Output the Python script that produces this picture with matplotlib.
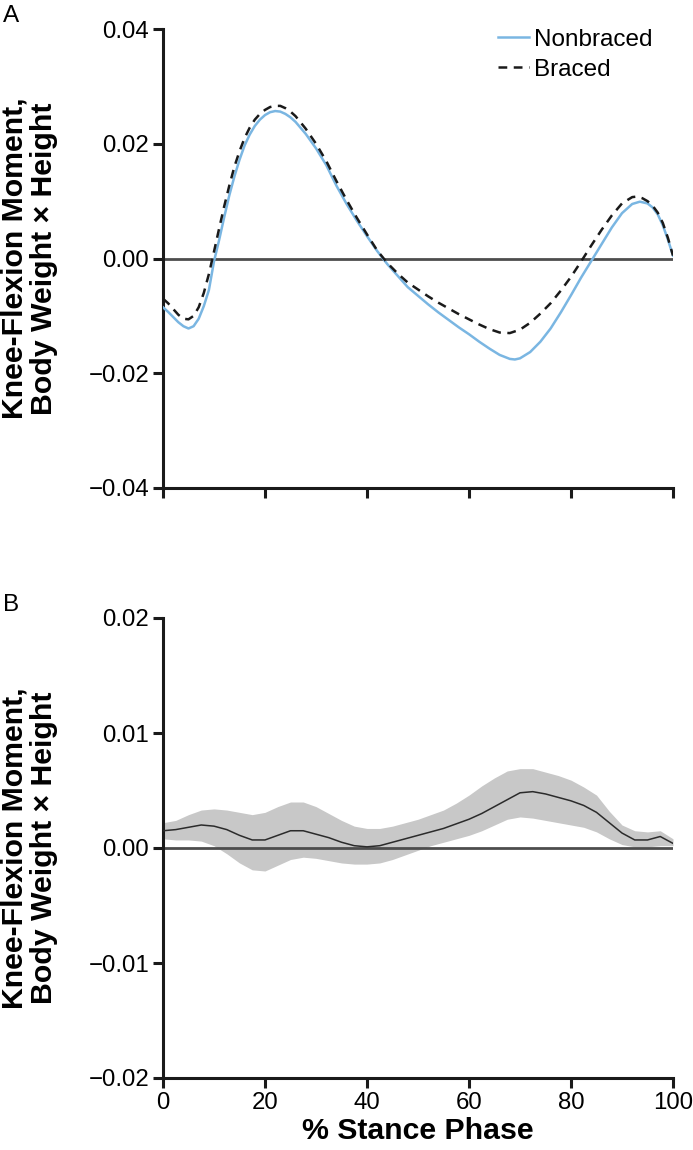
import matplotlib
matplotlib.use("Agg")
import matplotlib.pyplot as plt
import numpy as np

plt.rcParams['font.family'] = ['Liberation Sans', 'DejaVu Sans']

# ---------------- Panel A data ----------------
xa = [0, 1, 2, 3, 4, 5, 6, 7, 8, 9, 10, 11, 12, 13, 14, 15, 16, 17, 18, 19, 20,
      21, 22, 23, 24, 25, 26, 28, 30, 32, 34, 36, 38, 40, 42, 44, 46, 48, 50,
      52, 54, 56, 58, 60, 62, 64, 66, 68, 69, 70, 72, 74, 76, 78, 80, 82, 84,
      86, 88, 90, 92, 93.5, 95, 96, 97, 98, 99, 100]
nonbraced = [-0.0085, -0.0093, -0.0102, -0.0111, -0.0118, -0.0122, -0.0118,
             -0.0105, -0.0083, -0.0055, -0.0005, 0.0032, 0.0072, 0.0110, 0.0143,
             0.0172, 0.0197, 0.0216, 0.0231, 0.0242, 0.0250, 0.0255, 0.0257,
             0.0256, 0.0252, 0.0246, 0.0238, 0.0217, 0.0192, 0.0163, 0.0127,
             0.0095, 0.0066, 0.0039, 0.0013, -0.0010, -0.0030, -0.0050, -0.0065,
             -0.0080, -0.0094, -0.0107, -0.0120, -0.0132, -0.0145, -0.0157,
             -0.0168, -0.0175, -0.0176, -0.0174, -0.0163, -0.0145, -0.0122,
             -0.0094, -0.0064, -0.0033, -0.0004, 0.0025, 0.0054, 0.0079, 0.0095,
             0.0099, 0.0096, 0.0089, 0.0077, 0.0058, 0.0033, 0.0005]

xb = [0, 1, 2, 3, 4, 5, 6, 7, 8, 9, 10, 11, 12, 13, 14, 15, 16, 17, 18, 19, 20,
      21, 22, 23, 24, 25, 26, 28, 30, 32, 34, 36, 38, 40, 42, 44, 46, 48, 50,
      52, 54, 56, 58, 60, 62, 64, 66, 68, 70, 72, 74, 76, 78, 80, 82, 84, 86,
      88, 90, 92, 93, 94, 95, 96, 97, 98, 99, 100]
braced = [-0.0070, -0.0078, -0.0088, -0.0098, -0.0105, -0.0106, -0.0100,
          -0.0085, -0.0060, -0.0027, 0.0012, 0.0052, 0.0091, 0.0127, 0.0160,
          0.0187, 0.0210, 0.0228, 0.0242, 0.0252, 0.0259, 0.0264, 0.0266,
          0.0266, 0.0262, 0.0256, 0.0248, 0.0226, 0.0200, 0.0170, 0.0135,
          0.0102, 0.0071, 0.0042, 0.0014, -0.0008, -0.0026, -0.0042, -0.0054,
          -0.0066, -0.0077, -0.0087, -0.0097, -0.0106, -0.0115, -0.0123,
          -0.0129, -0.0130, -0.0124, -0.0112, -0.0096, -0.0078, -0.0056,
          -0.0032, -0.0005, 0.0023, 0.0050, 0.0075, 0.0096, 0.0107, 0.0108,
          0.0105, 0.0100, 0.0092, 0.0080, 0.0062, 0.0036, 0.0005]

# ---------------- Panel B data ----------------
xd = [0, 2.5, 5, 7.5, 10, 12.5, 15, 17.5, 20, 22.5, 25, 27.5, 30, 32.5, 35,
      37.5, 40, 42.5, 45, 47.5, 50, 52.5, 55, 57.5, 60, 62.5, 65, 67.5, 70,
      72.5, 75, 77.5, 80, 82.5, 85, 87.5, 90, 92.5, 95, 97.5, 100]
diff_mean = [0.0015, 0.0016, 0.0018, 0.0020, 0.0019, 0.0016, 0.0011, 0.0007,
             0.0007, 0.0011, 0.0015, 0.0015, 0.0012, 0.0009, 0.0005, 0.0002,
             0.0001, 0.0002, 0.0005, 0.0008, 0.0011, 0.0014, 0.0017, 0.0021,
             0.0025, 0.0030, 0.0036, 0.0042, 0.0048, 0.0049, 0.0047, 0.0044,
             0.0041, 0.0037, 0.0031, 0.0022, 0.0013, 0.0007, 0.0007, 0.0010,
             0.0004]
diff_upper = [0.0022, 0.0024, 0.0029, 0.0033, 0.0034, 0.0033, 0.0031, 0.0029,
              0.0031, 0.0036, 0.0040, 0.0040, 0.0036, 0.0030, 0.0024, 0.0019,
              0.0017, 0.0017, 0.0019, 0.0022, 0.0025, 0.0029, 0.0033, 0.0039,
              0.0046, 0.0054, 0.0061, 0.0067, 0.0069, 0.0069, 0.0066, 0.0063,
              0.0059, 0.0053, 0.0046, 0.0032, 0.0020, 0.0015, 0.0014, 0.0015,
              0.0008]
diff_lower = [0.0008, 0.0007, 0.0007, 0.0006, 0.0002, -0.0005, -0.0013, -0.0019,
              -0.0020, -0.0015, -0.0010, -0.0008, -0.0009, -0.0011, -0.0013,
              -0.0014, -0.0014, -0.0013, -0.0010, -0.0006, -0.0002, 0.0002,
              0.0005, 0.0008, 0.0011, 0.0015, 0.0020, 0.0025, 0.0027, 0.0026,
              0.0024, 0.0022, 0.0020, 0.0018, 0.0014, 0.0008, 0.0003, 0.0001,
              0.0001, 0.0002, 0.0002]

xticks = [0, 20, 40, 60, 80, 100]
yticks_a = [-0.04, -0.02, 0.00, 0.02, 0.04]
yticks_b = [-0.02, -0.01, 0.00, 0.01, 0.02]

ylabel = "Knee-Flexion Moment,\nBody Weight \u00d7 Height"

W, H = 693, 1150
fig = plt.figure(figsize=(W / 100, H / 100), dpi=100)

def rect(l, r, t, b):
    return [l / W, 1 - b / H, (r - l) / W, (b - t) / H]

axA = fig.add_axes(rect(163, 673, 29, 488))
axB = fig.add_axes(rect(163, 673, 618, 1078))

tick_fs = 17.3
label_fs = 21.8

for ax in (axA, axB):
    for s in ("top", "right"):
        ax.spines[s].set_visible(False)
    for s in ("left", "bottom"):
        ax.spines[s].set_linewidth(2.2)
        ax.spines[s].set_color("#1a1a1a")
    ax.set_xlim(0, 100)
    ax.set_xticks(xticks)
    ax.tick_params(axis="both", direction="out", length=7, width=2.2,
                   color="#1a1a1a", labelsize=tick_fs, pad=3)
    ax.axhline(0, color="#4d4d4d", lw=2, zorder=2)
    ax.set_ylabel(ylabel, fontsize=label_fs, fontweight="bold",
                  linespacing=1.1)
    ax.yaxis.set_label_coords(-0.205, 0.5)

# Panel A
axA.set_ylim(-0.04, 0.04)
axA.set_yticks(yticks_a)
axA.set_yticklabels(["\u22120.04", "\u22120.02", "0.00", "0.02", "0.04"])
axA.tick_params(axis="x", labelbottom=False)
axA.plot(xa, nonbraced, color="#7ab6e2", lw=1.8, label="Nonbraced", zorder=3)
axA.plot(xb, braced, color="#1a1a1a", lw=1.8, ls=(0, (3.5, 2.6)),
         label="Braced", zorder=4)
leg = axA.legend(loc="upper right", bbox_to_anchor=(0.978, 1.022),
                 borderaxespad=0, frameon=False, fontsize=17.5,
                 handlelength=1.25, handletextpad=0.2, labelspacing=0.33)

# Panel B
axB.set_ylim(-0.02, 0.02)
axB.set_yticks(yticks_b)
axB.set_yticklabels(["\u22120.02", "\u22120.01", "0.00", "0.01", "0.02"])
axB.set_xticklabels([str(v) for v in xticks])
axB.fill_between(xd, diff_lower, diff_upper, color="#c8c8c8", lw=0, zorder=1)
axB.plot(xd, diff_mean, color="#2b2b2b", lw=1.1, zorder=3)
axB.set_xlabel("% Stance Phase", fontsize=label_fs, fontweight="bold")
axB.xaxis.set_label_coords(0.5, -0.085)
axB.xaxis.label.set_va("top")

fig.text(3 / W, 1 - 16 / H, "A", fontsize=17.5, va="center", ha="left")
fig.text(3 / W, 1 - 605 / H, "B", fontsize=17.5, va="center", ha="left")

fig.savefig("out.png", dpi=100)
